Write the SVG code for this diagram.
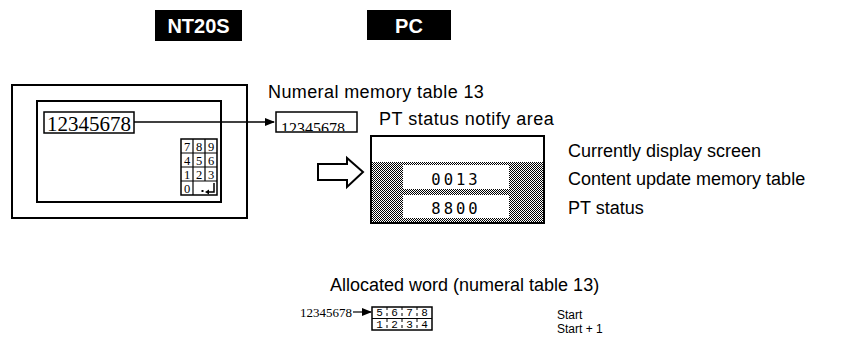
<svg xmlns="http://www.w3.org/2000/svg" width="854" height="344" viewBox="0 0 854 344">
<style>
.lbl{font-family:"Liberation Sans",Arial,sans-serif;font-size:18px;fill:#000}
.hdr{font-family:"Liberation Sans",Arial,sans-serif;font-size:20px;font-weight:bold;fill:#fff;text-anchor:middle}
.serif{font-family:"Liberation Serif","Times New Roman",serif;fill:#000}
.mono{font-family:"DejaVu Sans Mono","Liberation Mono",monospace;fill:#000;text-anchor:middle}
.box{fill:#fff;stroke:#000}
.key{font-family:"Liberation Serif",serif;font-size:12.5px;text-anchor:middle;fill:#000}
</style>
<defs>
<pattern id="chk" width="2" height="2" patternUnits="userSpaceOnUse">
<rect width="2" height="2" fill="#fff"/>
<rect width="1" height="1" fill="#000"/>
<rect x="1" y="1" width="1" height="1" fill="#000"/>
</pattern>
<marker id="ah" markerWidth="10" markerHeight="8" refX="9" refY="4" orient="auto" markerUnits="userSpaceOnUse">
<path d="M0,0 L10,4 L0,8 Z" fill="#000"/>
</marker>
<clipPath id="clipSmall"><rect x="277" y="113" width="79" height="18"/></clipPath>
</defs>
<rect width="854" height="344" fill="#fff"/>

<g id="hdr-nt20s">
<rect x="155" y="10" width="87" height="31" fill="#000"/>
<text class="hdr" x="198.5" y="33">NT20S</text>
</g>
<g id="hdr-pc">
<rect x="367" y="10" width="84" height="30" fill="#000"/>
<text class="hdr" x="409" y="33">PC</text>
</g>

<g id="nt-screen">
<rect class="box" x="12" y="85" width="235" height="133" stroke-width="2"/>
<rect class="box" x="37" y="101" width="184" height="101" stroke-width="2"/>
<rect class="box" x="44" y="112" width="90" height="21" stroke-width="1.5"/>
<text class="serif" x="47" y="131" font-size="21">12345678</text>
</g>

<g id="keypad">
<rect class="box" x="181" y="139" width="36" height="56" stroke-width="1.5"/>
<path d="M181,153H217M181,167H217M181,181H217M193,139V195M205,139V181" stroke="#000" stroke-width="1.2" fill="none"/>
<text class="key" x="187" y="151">7</text><text class="key" x="199" y="151">8</text><text class="key" x="211" y="151">9</text>
<text class="key" x="187" y="165">4</text><text class="key" x="199" y="165">5</text><text class="key" x="211" y="165">6</text>
<text class="key" x="187" y="179">1</text><text class="key" x="199" y="179">2</text><text class="key" x="211" y="179">3</text>
<text class="key" x="187" y="193">0</text>
<rect x="201.5" y="190" width="2" height="2" fill="#000"/>
<path d="M214,183V192H207" stroke="#000" stroke-width="1.5" fill="none"/>
<path d="M205,192L209,189.5V194.5Z" fill="#000"/>
</g>

<g id="connectors">
<line x1="134" y1="122" x2="274" y2="122" stroke="#000" stroke-width="1.5" marker-end="url(#ah)"/>
<polygon points="318,164 347,164 347,158 363,172 347,187 347,180 318,180" fill="#fff" stroke="#000" stroke-width="2"/>
<line x1="353" y1="312" x2="371" y2="312" stroke="#000" stroke-width="1.2" marker-end="url(#ah)"/>
</g>

<g id="numeral-table">
<rect class="box" x="276" y="112" width="81" height="20" stroke-width="1.5"/>
<text class="serif" x="281" y="134" font-size="16" clip-path="url(#clipSmall)">12345678</text>
</g>

<g id="pt-status-area">
<rect x="371" y="162" width="173" height="61" fill="url(#chk)"/>
<rect x="403" y="165" width="106" height="24" fill="#fff"/>
<rect x="403" y="195" width="106" height="23" fill="#fff"/>
<rect x="371" y="136" width="173" height="87" fill="none" stroke="#000" stroke-width="2"/>
<text class="mono" x="456" y="185" font-size="15.5" letter-spacing="3">0013</text>
<text class="mono" x="456" y="214" font-size="15.5" letter-spacing="3">8800</text>
</g>

<g id="labels">
<text class="lbl" x="268" y="98" font-size="21" letter-spacing="0.4">Numeral memory table 13</text>
<text class="lbl" x="379" y="125" font-size="21" letter-spacing="0.5">PT status notify area</text>
<text class="lbl" x="568" y="157">Currently display screen</text>
<text class="lbl" x="568" y="185">Content update memory table</text>
<text class="lbl" x="568" y="214">PT status</text>
<text class="lbl" x="330" y="291" font-size="14">Allocated word (numeral table 13)</text>
</g>

<g id="allocated-word">
<text class="serif" x="300" y="317" font-size="13">12345678</text>
<rect class="box" x="372" y="307" width="60" height="23" stroke-width="1.5"/>
<line x1="372" y1="318.5" x2="432" y2="318.5" stroke="#000" stroke-width="1.2"/>
<path d="M387,307V330M402,307V330M417,307V330" stroke="#000" stroke-width="1" stroke-dasharray="3,3"/>
<g font-family="Liberation Mono,monospace" font-size="11" text-anchor="middle">
<text x="379.5" y="316">5</text><text x="394.5" y="316">6</text><text x="409.5" y="316">7</text><text x="424.5" y="316">8</text>
<text x="379.5" y="328">1</text><text x="394.5" y="328">2</text><text x="409.5" y="328">3</text><text x="424.5" y="328">4</text>
</g>
<text x="557" y="319" font-family="Liberation Sans,Arial,sans-serif" font-size="12">Start</text>
<text x="557" y="333" font-family="Liberation Sans,Arial,sans-serif" font-size="12">Start + 1</text>
</g>
</svg>
